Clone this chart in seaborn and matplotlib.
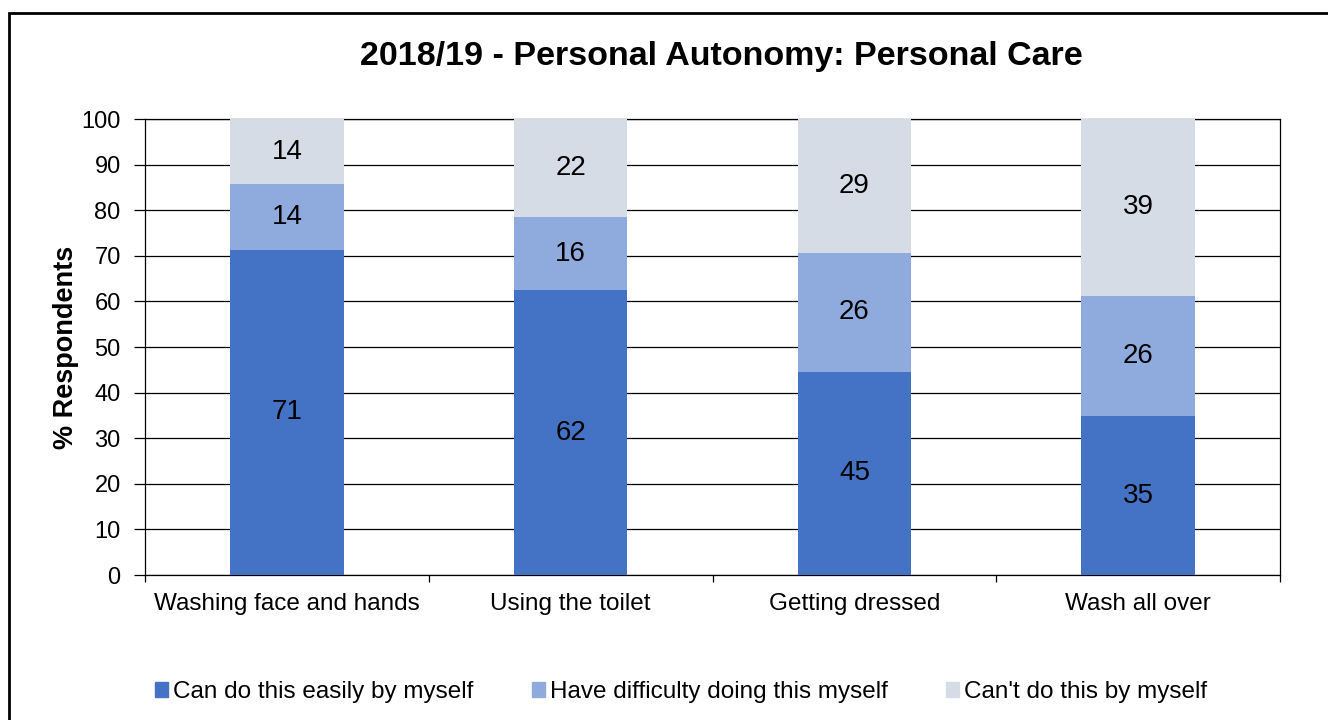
import numpy as np
import pandas as pd
import matplotlib
matplotlib.use("Agg")
import matplotlib.pyplot as plt
import seaborn as sns
from matplotlib.patches import Rectangle

# Data (% respondents)
tasks = ["Washing face and hands", "Using the toilet", "Getting dressed", "Wash all over"]
easily = [71.3, 62.4, 44.6, 34.8]
difficulty = [14.4, 16.0, 26.0, 26.4]
cant = [14.3, 21.6, 29.4, 38.8]
series_names = ["Can do this easily by myself", "Have difficulty doing this myself",
                "Can't do this by myself"]
colors = ["#4472C4", "#8FAADC", "#D6DCE5"]

sns.set_style("white")
plt.rcParams['font.family'] = ['Liberation Sans', 'DejaVu Sans']
plt.rcParams.update({"text.color": "black", "axes.labelcolor": "black",
                     "xtick.color": "black", "ytick.color": "black"})

fig = plt.figure(figsize=(13.28, 7.2), dpi=100)
ax = fig.add_axes([145/1328, 1-575/720, 1135/1328, 456/720])

lvl1 = np.array(easily)
lvl2 = lvl1 + np.array(difficulty)
lvl3 = lvl2 + np.array(cant)

# stacked bars: draw cumulative totals, tallest first
for tops, col in zip([lvl3, lvl2, lvl1], colors[::-1]):
    df = pd.DataFrame({"task": tasks, "val": tops})
    sns.barplot(data=df, x="task", y="val", color=col, width=0.4,
                saturation=1, ax=ax, zorder=3, linewidth=0)

# segment labels
for i in range(len(tasks)):
    bottoms = [0, lvl1[i], lvl2[i]]
    for b, v in zip(bottoms, [easily[i], difficulty[i], cant[i]]):
        ax.text(i, b + v/2, f"{v:.0f}", ha="center", va="center",
                fontsize=20, color="black", zorder=5)

ax.set_ylim(0, 100)
ax.set_xlim(-0.5, 3.5)
ax.set_yticks(range(0, 101, 10))
ax.yaxis.grid(True, color="black", linewidth=0.9, zorder=0)
ax.set_axisbelow(True)
ax.tick_params(axis="y", length=8, width=0.9, color="black", labelsize=17, pad=9.5, left=True)
ax.tick_params(axis="x", which="major", length=0, labelsize=17.5, pad=13)
ax.set_xticks([-0.5, 0.5, 1.5, 2.5, 3.5], minor=True)
ax.tick_params(axis="x", which="minor", length=5, width=0.9, color="black", bottom=True)
for s in ax.spines.values():
    s.set_color("black")
    s.set_linewidth(0.9)
ax.set_xlabel("")
ax.set_ylabel("% Respondents", fontsize=19.5, fontweight="bold", labelpad=2)

fig.text(721/1328, 1-57/720, "2018/19 - Personal Autonomy: Personal Care",
         ha="center", va="center", fontsize=24.5, fontweight="bold")

handles = [Rectangle((0, 0), 1, 1, color=c) for c in colors]
fig.legend(handles, series_names, loc="center", bbox_to_anchor=(681/1328, 1-692/720),
           ncol=3, frameon=False, fontsize=17.5, handlelength=0.55, handleheight=0.6,
           handletextpad=0.2, columnspacing=2.4)

# outer chart border
fig.patches.append(Rectangle((9/1328, -0.1), 2, 1-13/720 + 0.1, transform=fig.transFigure,
                             fill=False, edgecolor="black", linewidth=2))

fig.savefig("out.png", dpi=100)
